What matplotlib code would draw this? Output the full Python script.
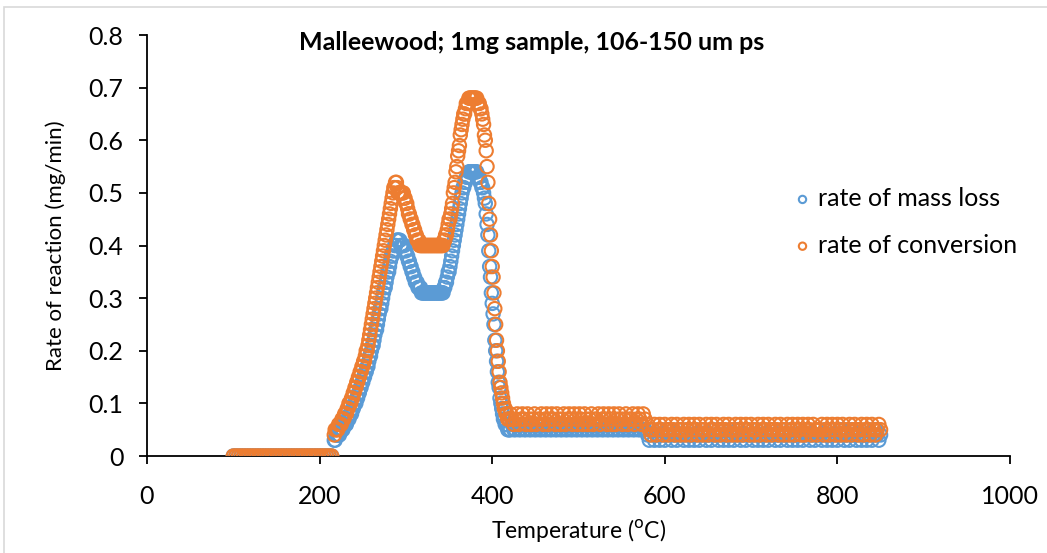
import numpy as np
import matplotlib
matplotlib.use("Agg")
import matplotlib.pyplot as plt
from matplotlib.patches import Rectangle

# ---------------- data ----------------
# flat region before decomposition
temp_pre = np.arange(100, 217, 3)
mass_pre = [0.0] * len(temp_pre)
conv_pre = [0.0] * len(temp_pre)

# reaction region, 217..420 degC, values in hundredths of mg/min
temp_rxn = np.arange(217, 421, 1)
conv_rxn_h = [4, 5, 5, 5,
              5, 6, 6, 6, 6, 7, 7, 7, 8, 8,
              8, 9, 9, 10, 10, 10, 11, 11, 12, 12,
              13, 13, 14, 14, 15, 15, 16, 16, 17, 17,
              18, 18, 19, 20, 20, 21, 22, 23, 24, 25,
              26, 27, 28, 29, 30, 31, 32, 33, 34, 35,
              36, 37, 38, 39, 40, 41, 42, 43, 44, 45,
              46, 47, 48, 49, 50, 51, 51, 52, 52, 51,
              50, 50, 50, 50, 50, 50, 50, 49, 49, 48,
              48, 47, 46, 46, 45, 45, 44, 44, 43, 43,
              42, 42, 41, 41, 41, 40, 40, 40, 40, 40,
              40, 40, 40, 40, 40, 40, 40, 40, 40, 40,
              40, 40, 40, 40, 40, 40, 40, 40, 40, 40,
              40, 40, 40, 41, 41, 42, 42, 43, 44, 45,
              45, 46, 47, 48, 50, 51, 52, 54, 55, 57,
              58, 59, 61, 62, 63, 64, 65, 65, 66, 67,
              67, 67, 68, 68, 68, 68, 68, 68, 68, 68,
              68, 68, 67, 67, 67, 66, 66, 65, 64, 63,
              61, 60, 58, 55, 52, 48, 45, 42, 39, 36,
              34, 31, 28, 25, 22, 20, 18, 16, 14, 13,
              12, 11, 10, 9, 9, 8, 8, 7, 7, 7]
mass_rxn_h = [3, 3, 4, 4,
              4, 4, 4, 5, 5, 5, 5, 6, 6, 6,
              6, 7, 7, 7, 8, 8, 8, 9, 9, 10,
              10, 10, 11, 11, 12, 12, 13, 13, 14, 14,
              15, 15, 16, 16, 17, 17, 18, 19, 19, 20,
              21, 21, 22, 23, 24, 24, 25, 26, 27, 28,
              28, 29, 30, 31, 32, 32, 33, 34, 35, 35,
              36, 37, 38, 38, 39, 39, 40, 40, 41, 41,
              41, 41, 41, 40, 40, 40, 40, 40, 39, 39,
              38, 38, 37, 37, 36, 36, 35, 35, 34, 34,
              33, 33, 33, 32, 32, 32, 32, 31, 31, 31,
              31, 31, 31, 31, 31, 31, 31, 31, 31, 31,
              31, 31, 31, 31, 31, 31, 31, 31, 31, 31,
              31, 31, 31, 32, 32, 33, 33, 34, 35, 35,
              36, 37, 38, 39, 40, 41, 42, 43, 44, 45,
              46, 47, 48, 49, 50, 51, 51, 52, 52, 53,
              53, 53, 54, 54, 54, 54, 54, 54, 54, 54,
              54, 54, 53, 53, 53, 52, 52, 51, 51, 50,
              49, 48, 46, 44, 42, 39, 36, 34, 31, 29,
              27, 25, 22, 20, 18, 16, 14, 13, 11, 10,
              9, 8, 7, 7, 6, 6, 6, 5, 5, 5]

# char burn-off tail, first part (421..577 degC, every 2 degC)
temp_tail1 = np.arange(421, 578, 2)
conv_tail1_h = [8, 7, 6, 7, 8, 6, 7, 8, 7, 6,
                8, 7, 6, 7, 8, 6, 7, 7, 8, 6,
                7, 8, 6, 7, 8, 7, 6, 8, 7, 6,
                7, 8, 6, 7, 8, 7, 6, 8, 7, 6,
                8, 7, 6, 8, 7, 6, 7, 8, 6, 7,
                7, 8, 6, 7, 8, 7, 6, 8, 7, 6,
                8, 6, 7, 8, 7, 6, 7, 8, 6, 7,
                7, 8, 6, 7, 8, 7, 6, 8, 7]
mass_tail1_h = [5, 6, 5, 5, 6, 5, 5, 6, 5, 5,
                6, 5, 5, 6, 5, 5, 6, 5, 5, 6,
                5, 5, 6, 5, 5, 6, 5, 5, 6, 5,
                5, 6, 5, 5, 6, 5, 5, 6, 5, 5,
                6, 5, 5, 6, 5, 5, 6, 5, 5, 6,
                5, 5, 6, 5, 5, 6, 5, 5, 6, 5,
                5, 6, 5, 5, 6, 5, 5, 6, 5, 5,
                6, 5, 5, 6, 5, 5, 6, 5, 5]

# tail, second part (580..850 degC, every 2 degC)
temp_tail2 = np.arange(580, 851, 2)
conv_tail2_h = [6, 5, 4, 5, 6, 4, 5, 6, 5, 4,
                6, 5, 4, 5, 6, 5, 4, 6, 5, 4,
                5, 6, 4, 5, 6, 4, 5, 6, 5, 4,
                6, 5, 4, 5, 6, 4, 5, 6, 5, 4,
                6, 5, 4, 5, 6, 5, 4, 6, 5, 4,
                5, 6, 4, 5, 6, 4, 5, 6, 5, 4,
                6, 5, 4, 5, 6, 4, 5, 6, 5, 4,
                6, 5, 4, 5, 6, 5, 4, 6, 5, 4,
                5, 6, 4, 5, 6, 4, 5, 6, 5, 4,
                6, 4, 5, 6, 5, 4, 6, 5, 4, 5,
                5, 6, 4, 5, 6, 4, 5, 6, 5, 4,
                6, 5, 4, 6, 5, 4, 5, 6, 4, 5,
                6, 5, 4, 5, 6, 4, 5, 6, 5, 4,
                6, 5, 4, 5, 6, 5]
mass_tail2_h = [4, 3, 4, 5, 3, 4, 4, 3, 5, 4,
                3, 4, 5, 4, 3, 4, 4, 3, 5, 4,
                4, 3, 4, 5, 3, 4, 4, 3, 5, 4,
                3, 4, 5, 4, 3, 4, 4, 3, 5, 4,
                4, 3, 4, 5, 3, 4, 4, 3, 5, 4,
                3, 4, 5, 4, 3, 4, 4, 3, 5, 4,
                4, 3, 4, 5, 3, 4, 4, 3, 5, 4,
                3, 4, 5, 4, 3, 4, 4, 3, 5, 4,
                4, 3, 4, 5, 3, 4, 4, 3, 5, 4,
                3, 4, 5, 4, 3, 4, 4, 3, 5, 4,
                4, 3, 4, 5, 3, 4, 4, 3, 5, 4,
                3, 4, 5, 4, 3, 4, 4, 3, 5, 4,
                4, 3, 4, 5, 3, 4, 4, 3, 5, 4,
                3, 4, 5, 4, 3, 4]

series_labels = ["rate of mass loss", "rate of conversion"]
title_text = "Malleewood; 1mg sample, 106-150 um ps"
x_ticks = [0, 200, 400, 600, 800, 1000]
y_ticks = [0, 0.1, 0.2, 0.3, 0.4, 0.5, 0.6, 0.7, 0.8]
y_ticklabels = ["0", "0.1", "0.2", "0.3", "0.4", "0.5", "0.6", "0.7", "0.8"]

# ---------------- assemble ----------------
def hundredths(v):
    return np.asarray(v, dtype=float) / 100.0

n1 = min(len(temp_tail1), len(conv_tail1_h), len(mass_tail1_h))
n2 = min(len(temp_tail2), len(conv_tail2_h), len(mass_tail2_h))

temp_all = np.concatenate([temp_pre, temp_rxn, temp_tail1[:n1], temp_tail2[:n2]])
mass_all = np.concatenate([mass_pre, hundredths(mass_rxn_h),
                           hundredths(mass_tail1_h[:n1]), hundredths(mass_tail2_h[:n2])])
conv_all = np.concatenate([conv_pre, hundredths(conv_rxn_h),
                           hundredths(conv_tail1_h[:n1]), hundredths(conv_tail2_h[:n2])])

BLUE = "#5B9BD5"
ORANGE = "#ED7D31"
FONT = "Lato"

plt.rcParams["font.family"] = [FONT, "DejaVu Sans"]

fig = plt.figure(figsize=(10.47, 5.53), dpi=100)
ax = fig.add_axes([0.1404, 0.1754, 0.8243, 0.7613])

ax.scatter(temp_all, mass_all, s=92, facecolors="none", edgecolors=BLUE,
           linewidths=1.5, label=series_labels[0], zorder=3)
ax.scatter(temp_all, conv_all, s=92, facecolors="none", edgecolors=ORANGE,
           linewidths=1.5, label=series_labels[1], zorder=4)

ax.set_xlim(0, 1000)
ax.set_ylim(0, 0.8)
ax.set_xticks(x_ticks)
ax.set_yticks(y_ticks)
ax.set_yticklabels(y_ticklabels)
for s in ["top", "right"]:
    ax.spines[s].set_visible(False)
for s in ["left", "bottom"]:
    ax.spines[s].set_linewidth(1.3)
    ax.spines[s].set_color("black")
    ax.spines[s].set_zorder(2)
ax.tick_params(axis="both", direction="out", length=6, width=1.3,
               labelsize=18, colors="black")
ax.tick_params(axis="x", pad=15)
ax.tick_params(axis="y", pad=11)

ax.set_xlabel("Temperature ($^{\\mathrm{o}}$C)", fontsize=16.5)
ax.xaxis.set_label_coords(0.5, -0.145)
ax.set_ylabel("Rate of reaction (mg/min)", fontsize=16)
ax.yaxis.set_label_coords(-0.094, 0.5)

fig.text(532 / 1047, 1 - 43 / 553, title_text, ha="center", va="center",
         fontsize=18, fontweight="bold")

leg = ax.legend(loc="upper left", bbox_to_anchor=(790 / 1047, 1 - 187 / 553),
                bbox_transform=fig.transFigure, frameon=False, fontsize=18,
                markerscale=0.55, handletextpad=0.1, labelspacing=0.95,
                handlelength=1.0, borderpad=0, borderaxespad=0)

# light grey chart-area border
fig.add_artist(Rectangle((4 / 1047, -0.05), 1.1, 1 - 7 / 553 + 0.05,
                         transform=fig.transFigure, fill=False,
                         edgecolor="#D9D9D9", linewidth=1.2))

fig.savefig("out.png", dpi=100)
